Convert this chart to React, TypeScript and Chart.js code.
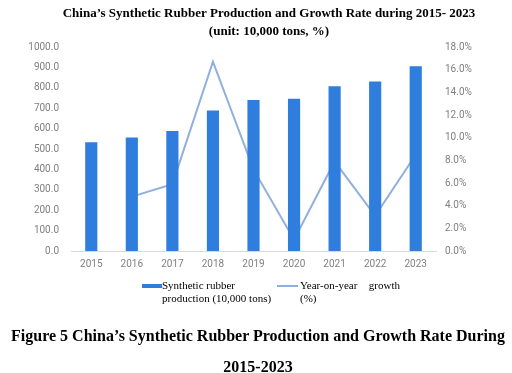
import React, { useEffect, useRef } from "react";
import { Chart, registerables } from "chart.js";

Chart.register(...registerables);

const years = ["2015", "2016", "2017", "2018", "2019", "2020", "2021", "2022", "2023"];
const production = [533, 557, 588, 689, 740, 746, 808, 831, 906];
const growth: (number | null)[] = [null, 4.8, 5.9, 16.7, 7.2, 1.0, 7.9, 3.1, 8.5];

const titleLines = [
  "China\u2019s Synthetic Rubber Production and Growth Rate during 2015- 2023",
  "(unit: 10,000 tons, %)",
];
const productionLabel = ["Synthetic rubber", "production (10,000 tons)"];
const growthLabelWords = ["Year-on-year", "growth", "(%)"];
const captionLines = [
  "Figure 5 China\u2019s Synthetic Rubber Production and Growth Rate During",
  "2015-2023",
];

const BAR_COLOR = "#2f7ddd";
const LINE_COLOR = "#8fb0dc";
const TICK_COLOR = "#808080";
const SERIF = '"Liberation Serif", "Times New Roman", serif';

export default function App() {
  const canvasRef = useRef<HTMLCanvasElement | null>(null);

  useEffect(() => {
    document.body.style.margin = "0";
    const ctx = canvasRef.current!;
    const chart = new Chart(ctx, {
      type: "bar",
      data: {
        labels: years,
        datasets: [
          {
            type: "bar",
            label: "Synthetic rubber production (10,000 tons)",
            data: production,
            backgroundColor: BAR_COLOR,
            yAxisID: "y",
            barPercentage: 0.3,
            categoryPercentage: 1,
            order: 1,
          },
          {
            type: "line",
            label: "Year-on-year growth (%)",
            data: growth,
            borderColor: LINE_COLOR,
            borderWidth: 2,
            pointRadius: 0,
            tension: 0,
            yAxisID: "y1",
            order: 2,
          } as any,
        ],
      },
      options: {
        responsive: false,
        animation: false,
        layout: { padding: { left: 26, right: 0, top: 0, bottom: 0 } },
        plugins: {
          legend: { display: false },
          tooltip: { enabled: false },
          title: {
            display: true,
            text: titleLines,
            color: "#000",
            font: { family: SERIF, size: 13, weight: "bold", lineHeight: 1.44 },
            padding: { top: 4, bottom: 5.6 },
          },
        },
        scales: {
          x: {
            grid: { display: false, drawTicks: false },
            border: { display: true, color: "#d9d9d9", width: 1 },
            ticks: { color: TICK_COLOR, font: { family: "Roboto", size: 10 }, padding: 7, maxRotation: 0 },
            afterFit: (s: any) => {
              s.height = 122;
            },
          },
          y: {
            position: "left",
            min: 0,
            max: 1000,
            grid: { display: false, drawTicks: false },
            border: { display: false },
            ticks: {
              stepSize: 100,
              color: TICK_COLOR,
              font: { family: "Roboto", size: 10 },
              padding: 12,
              callback: (v: any) => Number(v).toFixed(1),
            },
            afterFit: (s: any) => {
              s.width = 45;
            },
          },
          y1: {
            position: "right",
            min: 0,
            max: 18,
            grid: { display: false, drawTicks: false },
            border: { display: false },
            ticks: {
              stepSize: 2,
              color: TICK_COLOR,
              font: { family: "Roboto", size: 10 },
              padding: 9,
              callback: (v: any) => Number(v).toFixed(1) + "%",
            },
            afterFit: (s: any) => {
              s.width = 76;
            },
          },
        },
      } as any,
    });
    return () => chart.destroy();
  }, []);

  const legendText: React.CSSProperties = {
    position: "absolute",
    fontFamily: SERIF,
    fontSize: 11,
    lineHeight: "12.6px",
    color: "#000",
    whiteSpace: "nowrap",
  };

  return (
    <div style={{ position: "absolute", left: 0, top: 0, width: 512, height: 373, background: "#fff" }}>
      <canvas ref={canvasRef} width={512} height={373} style={{ position: "absolute", left: 0, top: 0 }} />
      <div style={{ position: "absolute", left: 142, top: 284, width: 20, height: 4, background: BAR_COLOR }} />
      <div style={{ ...legendText, left: 162, top: 279 }}>
        {productionLabel[0]}
        <br />
        {productionLabel[1]}
      </div>
      <div style={{ position: "absolute", left: 277, top: 285, width: 21, height: 2, background: LINE_COLOR }} />
      <div style={{ ...legendText, left: 300, top: 279, width: 100 }}>
        <div style={{ display: "flex", justifyContent: "space-between" }}>
          <span>{growthLabelWords[0]}</span>
          <span>{growthLabelWords[1]}</span>
        </div>
        <div>{growthLabelWords[2]}</div>
      </div>
      <div
        style={{
          position: "absolute",
          left: 0,
          top: 320,
          width: 516,
          textAlign: "center",
          fontFamily: SERIF,
          fontWeight: "bold",
          fontSize: 16,
          lineHeight: "31px",
          color: "#000",
          whiteSpace: "nowrap",
        }}
      >
        {captionLines[0]}
        <br />
        {captionLines[1]}
      </div>
    </div>
  );
}
